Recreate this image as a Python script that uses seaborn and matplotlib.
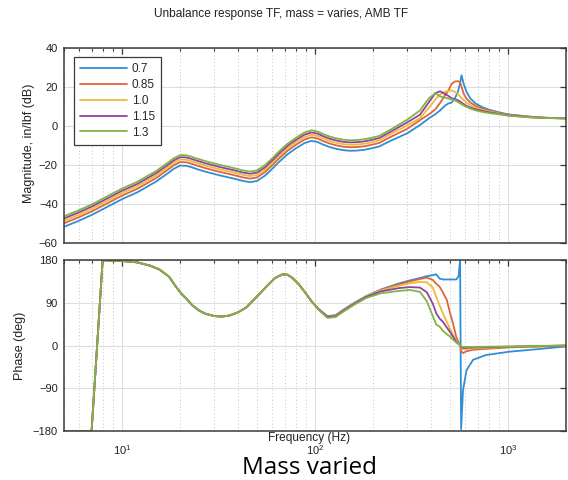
import numpy as np
import pandas as pd
import matplotlib
matplotlib.use("Agg")
import matplotlib.pyplot as plt
import seaborn as sns
from matplotlib.ticker import LogLocator, NullFormatter, FixedLocator
from matplotlib.lines import Line2D

# ---------------- data ----------------
masses = ["0.7", "0.85", "1.0", "1.15", "1.3"]
colors = ["#2e8fd4", "#e0643a", "#efba3a", "#8e44a0", "#80b545"]

mag_freq = [5, 6, 7, 8, 10, 12, 15, 17.5, 18.5, 20, 21.5, 23, 25, 27, 32, 38, 42, 46, 50, 55,
            60, 65, 72, 80, 88, 96, 103, 110, 120, 130, 140, 152, 165, 180, 195, 215,
            250, 300, 350, 390, 420, 445, 470, 490, 510, 530, 550, 565, 575, 590,
            610, 640, 680, 740, 800, 900, 1000, 1300, 1600, 2000]

mag_07 = [-51.7, -48.5, -45.5, -42.5, -37.5, -34.0, -28.5, -23.8, -22.0, -20.3, -20.4, -21.2,
          -22.4, -23.4, -25.3, -27.0, -28.1, -28.8, -28.2, -25.5, -22.0, -18.5, -14.5, -11.3,
          -8.8, -7.6, -8.2, -9.5, -10.9, -11.8, -12.4, -12.7, -12.6, -12.2, -11.5, -10.5,
          -7.3, -3.8, 0.5, 4.0, 6.0, 8.0, 10.3, 11.5, 12.0, 14.0, 17.5, 22.0, 26.0, 21.5,
          17.5, 14.0, 11.5, 9.6, 8.3, 7.0, 6.0, 4.8, 4.2, 3.9]
mag_085 = [-49.9, -46.7, -43.7, -40.7, -35.7, -32.2, -26.7, -22.0, -20.2, -18.5, -18.6, -19.4,
           -20.6, -21.6, -23.5, -25.2, -26.3, -27.0, -26.4, -23.7, -20.2, -16.7, -12.7, -9.5,
           -7.0, -5.8, -6.4, -7.7, -9.1, -10.0, -10.6, -10.9, -10.8, -10.4, -9.7, -8.7,
           -5.3, -1.5, 3.0, 6.0, 8.5, 11.8, 15.5, 18.0, 21.5, 22.8, 23.0, 22.5, 20.0, 16.5,
           14.0, 12.0, 10.3, 8.8, 7.8, 6.7, 5.8, 4.7, 4.2, 3.9]
mag_10 = [-48.6, -45.4, -42.4, -39.4, -34.4, -30.9, -25.4, -20.7, -18.9, -17.2, -17.3, -18.1,
          -19.3, -20.3, -22.2, -23.9, -25.0, -25.7, -25.1, -22.4, -18.9, -15.4, -11.4, -8.2,
          -5.7, -4.5, -5.1, -6.4, -7.8, -8.7, -9.3, -9.6, -9.5, -9.1, -8.4, -7.4,
          -3.8, 0.3, 4.0, 9.5, 13.5, 16.2, 17.5, 18.0, 18.2, 17.6, 16.5, 15.2, 14.3, 13.2,
          12.0, 10.5, 9.4, 8.2, 7.4, 6.4, 5.6, 4.6, 4.1, 3.9]
mag_115 = [-47.4, -44.2, -41.2, -38.2, -33.2, -29.7, -24.2, -19.5, -17.7, -16.0, -16.1, -16.9,
           -18.1, -19.1, -21.0, -22.7, -23.8, -24.5, -23.9, -21.2, -17.7, -14.2, -10.2, -7.0,
           -4.5, -3.3, -3.9, -5.2, -6.6, -7.5, -8.1, -8.4, -8.3, -7.9, -7.2, -6.2,
           -2.6, 1.8, 5.8, 12.3, 16.8, 17.8, 16.5, 15.5, 14.3, 13.8, 13.2, 12.6, 12.0, 11.2,
           10.3, 9.4, 8.6, 7.7, 7.0, 6.2, 5.5, 4.5, 4.1, 3.9]
mag_13 = [-46.3, -43.1, -40.1, -37.1, -32.1, -28.6, -23.1, -18.4, -16.6, -14.9, -15.0, -15.8,
          -17.0, -18.0, -19.9, -21.6, -22.7, -23.4, -22.8, -20.1, -16.6, -13.1, -9.1, -5.9,
          -3.4, -2.2, -2.8, -4.1, -5.5, -6.4, -7.0, -7.3, -7.2, -6.8, -6.1, -5.1,
          -1.5, 3.2, 8.0, 14.3, 16.8, 15.2, 14.6, 14.1, 13.7, 13.2, 12.3, 11.6, 11.2, 10.5,
          9.8, 8.9, 8.0, 7.2, 6.6, 6.0, 5.3, 4.4, 4.1, 3.9]

# phase: shared low-frequency part (all masses coincide there)
phase_freq_low = [5, 6.95, 7.93, 10, 12, 14, 15.6, 17.5, 19, 20.5, 21.5, 23.2, 25, 27, 30,
                  33, 36, 40, 44, 50, 56, 62, 68, 72, 76, 82, 88, 96]
phase_low = [-180, -180, 179.5, 178, 175, 168, 160, 145, 124, 107, 99, 84, 74, 67, 62,
             61, 63, 70, 80, 103, 124, 142, 150, 149, 143, 130, 114, 93]

phase_freq_high = [105, 116, 128, 140, 160, 184, 220, 274, 310, 350, 380, 408, 425, 442, 460,
                   482, 500, 520, 540, 555, 565, 572, 585, 610, 660, 770, 1020, 1400, 2000]
ph_07 = [76, 62, 64, 75, 90, 104, 118, 131, 137, 142, 146, 148, 150, 141, 139, 139, 139, 139,
         139, 146, 180, -176, -94, -52, -30, -20, -13, -8, -2]
ph_085 = [75, 61, 63, 74, 89, 103, 117, 129, 135, 140, 143, 138, 130, 124, 112, 96, 70, 45,
          18, 7, 1, -12, -16, -12, -9, -7, -4, -2.5, -0.5]
ph_10 = [75, 60.5, 63, 74, 89, 103, 116, 126, 131, 134, 133, 122, 103, 85, 68, 50, 36, 22,
         11, 5, 1, -6, -8, -7, -6, -4.5, -3, -2, 0]
ph_115 = [75, 60, 62, 73, 88, 102, 114, 121, 123, 122, 112, 88, 68, 57, 50, 38, 29, 18, 8,
          3.5, 0.5, -4, -5, -5, -4, -3.5, -2.5, -1.5, 0]
ph_13 = [74, 58, 60, 71, 86, 100, 110, 115, 117, 113, 93, 62, 44, 40, 31, 24, 19, 12, 6, 3,
         0.5, -2, -3, -3, -3, -2.5, -2, -1, 0]

mag_ticks = [-60, -40, -20, 0, 20, 40]
phase_ticks = [-180, -90, 0, 90, 180]

# ---------------- build long tables ----------------
mag_series = [mag_07, mag_085, mag_10, mag_115, mag_13]
ph_series = [ph_07, ph_085, ph_10, ph_115, ph_13]
mag_rows, ph_rows = [], []
for m, mg, ph in zip(masses, mag_series, ph_series):
    for f, v in zip(mag_freq, mg):
        mag_rows.append((f, v, m))
    for f, v in zip(phase_freq_low + phase_freq_high, phase_low + ph):
        ph_rows.append((f, v, m))
mag_df = pd.DataFrame(mag_rows, columns=["freq", "mag", "mass"])
ph_df = pd.DataFrame(ph_rows, columns=["freq", "phase", "mass"])

# ---------------- style ----------------
sns.set_theme(style="white")
plt.rcParams['font.family'] = ['Liberation Sans', 'DejaVu Sans']
plt.rcParams['mathtext.fontset'] = 'custom'
plt.rcParams['mathtext.rm'] = 'Liberation Sans'
plt.rcParams['mathtext.it'] = 'Liberation Sans:italic'
plt.rcParams['mathtext.bf'] = 'Liberation Sans:bold'

fig = plt.figure(figsize=(5.68, 4.8), dpi=100)
ax1 = fig.add_axes([64 / 568, 1 - 243 / 480, 502 / 568, 195 / 480])
ax2 = fig.add_axes([64 / 568, 1 - 431 / 480, 502 / 568, 171 / 480])

sns.lineplot(data=mag_df, x="freq", y="mag", hue="mass", hue_order=masses,
             palette=colors, estimator=None, sort=False, linewidth=1.3, ax=ax1)
sns.lineplot(data=ph_df, x="freq", y="phase", hue="mass", hue_order=masses,
             palette=colors, estimator=None, sort=False, linewidth=1.3, ax=ax2,
             legend=False)

spine_col = "#3a3a3a"
txt_col = "#222222"
for ax, yt, ylim in [(ax1, mag_ticks, (-60, 40)), (ax2, phase_ticks, (-180, 180))]:
    ax.set_xscale("log")
    ax.set_xlim(5, 2000)
    ax.set_ylim(*ylim)
    ax.yaxis.set_major_locator(FixedLocator(yt))
    ax.xaxis.set_major_locator(LogLocator(base=10, numticks=10))
    ax.xaxis.set_minor_locator(LogLocator(base=10, subs=np.arange(2, 10), numticks=20))
    ax.xaxis.set_minor_formatter(NullFormatter())
    ax.grid(which="major", color="#dedede", linewidth=0.8, linestyle="-")
    ax.grid(which="minor", axis="x", color="#c4c4c4", linewidth=0.7, linestyle=(0, (1, 2.5)))
    ax.set_axisbelow(True)
    for s in ax.spines.values():
        s.set_color(spine_col)
        s.set_linewidth(1.1)
    ax.tick_params(which="both", direction="in", top=True, right=True,
                   colors=spine_col, labelcolor=txt_col, labelsize=8)
    ax.tick_params(which="major", length=4.5, width=0.9)
    ax.tick_params(which="minor", length=2.5, width=0.8)
    ax.tick_params(axis="y", which="major", pad=4.5)
    ax.set_xlabel("")

ax1.tick_params(labelbottom=False)
ax2.tick_params(axis="x", which="major", pad=9)

ax1.set_ylabel("Magnitude, in/lbf (dB)", fontsize=9, color=txt_col)
ax2.set_ylabel("Phase (deg)", fontsize=9, color=txt_col)
ax1.yaxis.set_label_coords(-0.058, 0.51)
ax2.yaxis.set_label_coords(-0.075, 0.5)
ax2.set_xlabel("Frequency (Hz)", fontsize=8.6, color=txt_col)
ax2.xaxis.set_label_coords(0.488, -0.004)

# legend
handles = [Line2D([0], [0], color=c, lw=1.3) for c in colors]
leg = ax1.legend(handles, masses, loc="upper left", bbox_to_anchor=(10 / 502, 1 - 9 / 195),
                 borderaxespad=0, fontsize=8.5, handlelength=3.9, handletextpad=0.45,
                 labelspacing=0.32, borderpad=0.55, fancybox=False, framealpha=1,
                 edgecolor=spine_col)
leg.get_frame().set_linewidth(0.9)

fig.text(281 / 568, 1 - 14 / 480, "Unbalance response TF, mass = varies, AMB TF",
         ha="center", va="center", fontsize=8.6, color=txt_col)
fig.text(309 / 568, 1 - 474 / 480, "Mass varied", ha="center", va="baseline",
         fontsize=17.5, family=["Open Sans", "DejaVu Sans"], color="black")

fig.savefig("out.png", dpi=100, facecolor="white")
